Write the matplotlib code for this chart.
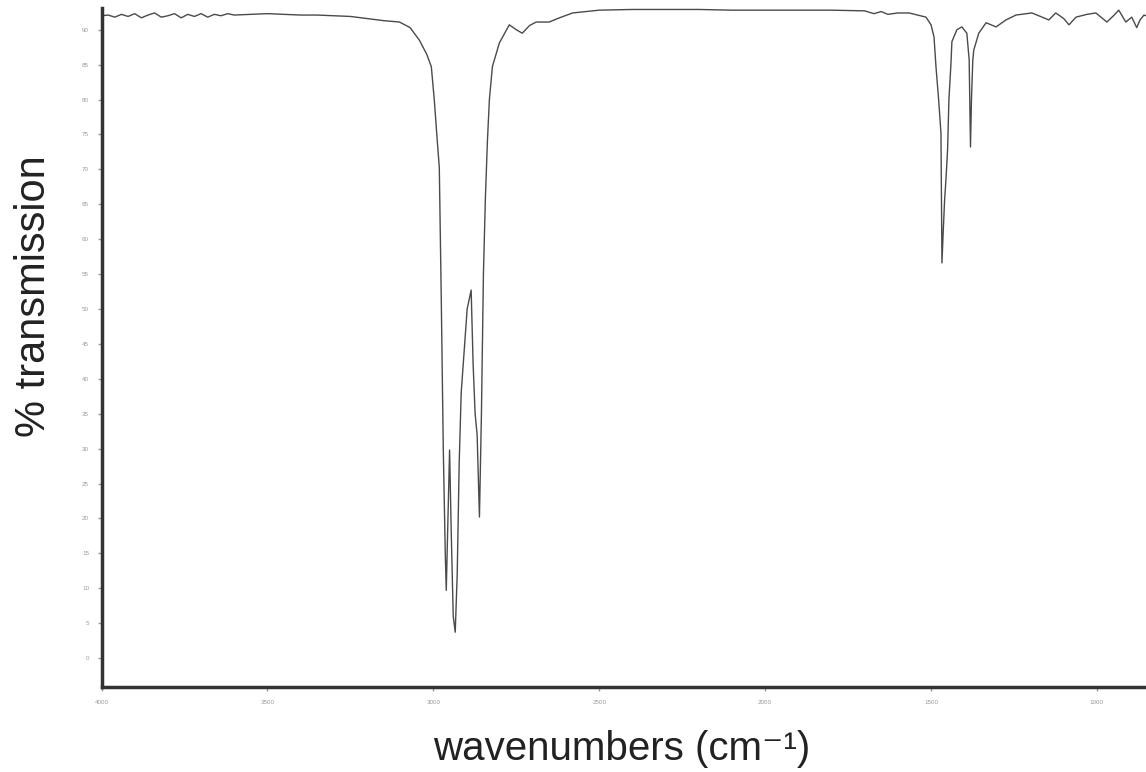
import numpy as np
import matplotlib.pyplot as plt

# IR spectrum (wavenumber in cm-1, % transmission)
wavenumber = [4000, 3980, 3960, 3940, 3920, 3900, 3880, 3860, 3840, 3820,
              3800, 3780, 3760, 3740, 3720, 3700, 3680, 3660, 3640, 3620,
              3600, 3550, 3500, 3450, 3400, 3350, 3300, 3250, 3200, 3150,
              3102, 3070, 3042, 3020, 3006, 2997, 2988, 2982, 2976, 2970,
              2964, 2961, 2957, 2951, 2946, 2940, 2934, 2928, 2922, 2916,
              2910, 2898, 2886, 2880, 2874, 2868, 2861, 2855, 2849, 2843,
              2837, 2831, 2822, 2801, 2771, 2750, 2732, 2710, 2690, 2651,
              2620, 2580, 2500, 2400, 2300, 2200, 2100, 2000, 1900, 1800,
              1700, 1672, 1650, 1630, 1600, 1566, 1540, 1515, 1500, 1491,
              1485, 1477, 1470, 1467, 1463, 1459, 1455, 1450, 1446, 1440,
              1437, 1422, 1407, 1392, 1385, 1381, 1378, 1374, 1371, 1356,
              1334, 1304, 1274, 1244, 1196, 1170, 1145, 1124, 1100, 1084,
              1063, 1030, 1003, 970, 950, 934, 913, 895, 880, 870, 858, 852]
transmission = [92.0, 92.1, 91.8, 92.2, 91.9, 92.3, 91.7, 92.1, 92.4, 91.8,
                92.0, 92.3, 91.7, 92.2, 91.9, 92.3, 91.8, 92.2, 92.0, 92.3,
                92.1, 92.2, 92.3, 92.2, 92.1, 92.1, 92.0, 91.9, 91.6, 91.3,
                91.1, 90.3, 88.5, 86.5, 84.7, 79.9, 74.0, 70.3, 51.3, 30.0,
                15.0, 9.7, 18.0, 29.8, 18.0, 6.0, 3.7, 12.0, 28.0, 38.0,
                42.0, 50.0, 52.7, 42.0, 35.0, 32.0, 20.2, 35.0, 55.0, 66.0,
                74.0, 80.0, 84.7, 88.1, 90.7, 90.0, 89.5, 90.6, 91.1, 91.1,
                91.7, 92.4, 92.8, 92.9, 92.9, 92.9, 92.8, 92.8, 92.8, 92.8,
                92.7, 92.3, 92.6, 92.2, 92.4, 92.4, 92.1, 91.8, 90.7, 89.0,
                84.7, 80.0, 75.2, 56.6, 61.3, 65.6, 68.5, 72.8, 80.0, 85.0,
                88.3, 90.0, 90.4, 89.5, 85.7, 73.2, 80.0, 85.7, 87.1, 89.5,
                91.0, 90.4, 91.4, 92.1, 92.4, 91.9, 91.4, 92.4, 91.6, 90.7,
                91.8, 92.2, 92.4, 91.1, 92.0, 92.8, 91.1, 91.8, 90.3, 91.4, 92.1, 92.0]

x_ticks = [4000, 3500, 3000, 2500, 2000, 1500, 1000]
y_ticks = list(range(0, 95, 5))

plt.rcParams['font.family'] = ['Liberation Sans', 'DejaVu Sans']

fig = plt.figure(figsize=(11.46, 7.72), dpi=100)
ax = fig.add_axes([0.0886, 0.110, 0.9114, 0.880])

ax.plot(wavenumber, transmission, color='#4a4a4a', linewidth=1.0)

ax.set_xlim(4000, 852)
ax.set_ylim(-4.16, 93.15)
ax.set_xticks(x_ticks)
ax.set_yticks(y_ticks)
ax.tick_params(axis='both', colors='#999999', labelsize=4.5, length=3, width=1,
               direction='out')
ax.tick_params(axis='x', pad=6)
ax.tick_params(axis='y', pad=6)

for side in ['top', 'right']:
    ax.spines[side].set_visible(False)
for side in ['left', 'bottom']:
    ax.spines[side].set_color('#333333')
    ax.spines[side].set_linewidth(2.5)

ax.set_xlabel('wavenumbers (cm\u207b\u00b9)', fontsize=29, color='#222222')
ax.xaxis.set_label_coords(0.498, -0.091)
ax.xaxis.label.set_verticalalignment('center')
ax.set_ylabel('% transmission', fontsize=30, color='#222222')
ax.yaxis.set_label_coords(-0.065, 0.576)
ax.yaxis.label.set_verticalalignment('center')

fig.savefig('out.png', dpi=100)
